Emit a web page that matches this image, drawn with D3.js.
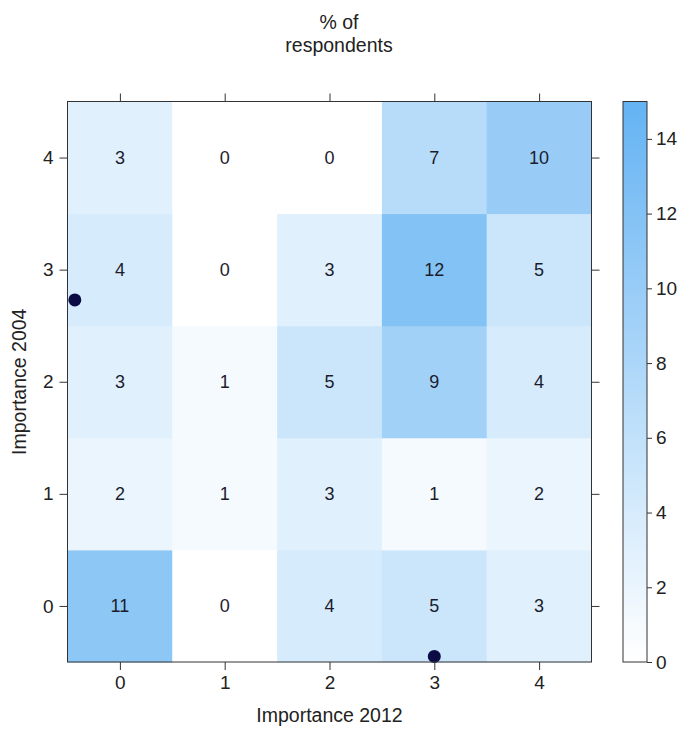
<!DOCTYPE html>
<html><head><meta charset="utf-8">
<script src="https://cdn.jsdelivr.net/npm/d3@7"></script>
<style>body{margin:0;background:#fff;} svg{display:block;font-family:"Liberation Sans",Arial,sans-serif;}</style>
</head><body>
<svg id="c" width="678" height="729"></svg>
<script>
const xCats = [0, 1, 2, 3, 4];
const yCats = [0, 1, 2, 3, 4];
// values[row for y][col for x]
const rowY0 = [11, 0, 4, 5, 3];
const rowY1 = [2, 1, 3, 1, 2];
const rowY2 = [3, 1, 5, 9, 4];
const rowY3 = [4, 0, 3, 12, 5];
const rowY4 = [3, 0, 0, 7, 10];
const rows = [rowY0, rowY1, rowY2, rowY3, rowY4];
const colorTicks = [0, 2, 4, 6, 8, 10, 12, 14];
const pointsX = [-0.43, 3.0];
const pointsY = [2.73, -0.45];

const svg = d3.select("#c");
const L = 67.5, R = 591.5, T = 101.5, B = 662;
const x = d3.scaleLinear().domain([-0.5, 4.5]).range([L, R]);
const y = d3.scaleLinear().domain([-0.5, 4.5]).range([B, T]);
const color = d3.scaleLinear().domain([0, 15]).range(["#ffffff", "#64b3f3"]);

const cells = [];
rows.forEach((r, yi) => r.forEach((v, xi) => cells.push({x: xCats[xi], y: yCats[yi], v})));

svg.append("g").selectAll("rect").data(cells).join("rect")
  .attr("x", d => x(d.x - 0.5)).attr("y", d => y(d.y + 0.5))
  .attr("width", d => x(d.x + 0.5) - x(d.x - 0.5) + 0.5)
  .attr("height", d => y(d.y - 0.5) - y(d.y + 0.5) + 0.5)
  .attr("fill", d => color(d.v));

svg.append("g").selectAll("text").data(cells).join("text")
  .attr("x", d => x(d.x)).attr("y", d => y(d.y)).attr("dy", "0.36em")
  .attr("text-anchor", "middle").style("font-size", "18px").attr("fill", "#1c1c2c")
  .text(d => d.v);

svg.append("g").selectAll("circle").data(pointsX.map((px, i) => ({px, py: pointsY[i]}))).join("circle")
  .attr("cx", d => x(d.px)).attr("cy", d => y(d.py)).attr("r", 6.5).attr("fill", "#0c0c45");

const axStyle = g => { g.select(".domain").remove(); g.attr("font-size", null).attr("font-family", null); g.selectAll("line").attr("stroke", "#333"); g.selectAll("text").style("font-size", "19px").attr("fill", "#222"); };
svg.append("g").attr("transform", `translate(0,${B})`).call(d3.axisBottom(x).tickValues(xCats).tickSize(8).tickPadding(6).tickFormat(d3.format("d"))).call(axStyle);
svg.append("g").attr("transform", `translate(0,${T})`).call(d3.axisTop(x).tickValues(xCats).tickSize(8).tickFormat("")).call(axStyle);
svg.append("g").attr("transform", `translate(${L},0)`).call(d3.axisLeft(y).tickValues(yCats).tickSize(8).tickPadding(6).tickFormat(d3.format("d"))).call(axStyle);
svg.append("g").attr("transform", `translate(${R},0)`).call(d3.axisRight(y).tickValues(yCats).tickSize(8).tickFormat("")).call(axStyle);

svg.append("rect").attr("x", L).attr("y", T).attr("width", R - L).attr("height", B - T)
  .attr("fill", "none").attr("stroke", "#333").attr("stroke-width", 1);

// color bar
const cbL = 623, cbW = 24;
const cy = d3.scaleLinear().domain([0, 15]).range([B, T]);
const defs = svg.append("defs");
const grad = defs.append("linearGradient").attr("id", "g").attr("x1", 0).attr("y1", 1).attr("x2", 0).attr("y2", 0);
d3.range(0, 16, 1).forEach(v => grad.append("stop").attr("offset", v / 15).attr("stop-color", color(v)));
svg.append("rect").attr("x", cbL).attr("y", T).attr("width", cbW).attr("height", B - T)
  .attr("fill", "url(#g)").attr("stroke", "#333");
svg.append("g").attr("transform", `translate(${cbL + cbW},0)`).call(d3.axisRight(cy).tickValues(colorTicks).tickSize(5).tickPadding(4)).call(axStyle);

// titles
const tStyle = s => s.attr("text-anchor", "middle").style("font-size", "19.5px").attr("fill", "#222");
svg.append("text").attr("x", 339).attr("y", 29).call(tStyle).text("% of");
svg.append("text").attr("x", 339).attr("y", 52).call(tStyle).text("respondents");
svg.append("text").attr("x", (L + R) / 2).attr("y", 722).call(tStyle).text("Importance 2012");
svg.append("text").attr("transform", `translate(26,${(T + B) / 2}) rotate(-90)`).call(tStyle).text("Importance 2004");
</script>
</body></html>
